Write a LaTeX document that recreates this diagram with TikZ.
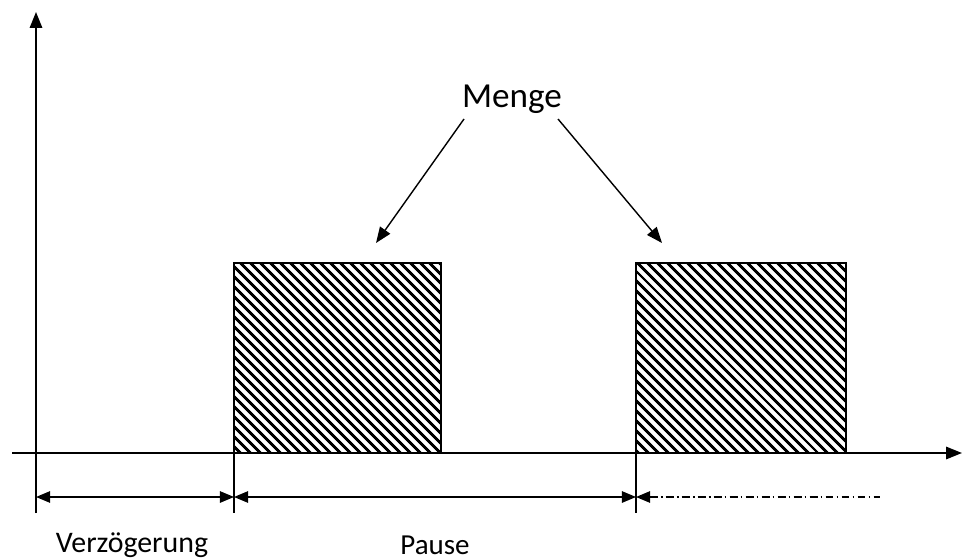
\documentclass[tikz,border=0pt]{standalone}
\usepackage{fontspec}
\setmainfont{Carlito}
\usetikzlibrary{arrows.meta,patterns.meta,positioning}

\begin{document}
\begin{tikzpicture}[x=0.02cm,y=-0.02cm,every node/.style={inner sep=1pt}]
\tikzstyle{axis}=[draw,line width=1pt,-{Triangle[length=9pt,width=7pt]}]
\tikzstyle{tick}=[draw,line width=0.8pt]
\tikzstyle{pulse}=[draw,line width=0.8pt,pattern={Lines[angle=-45,distance=4pt,line width=1.7pt]}]
\tikzstyle{dim}=[draw,line width=0.8pt,{Triangle[length=8pt,width=6.5pt]}-{Triangle[length=8pt,width=6.5pt]}]
\tikzstyle{pointer}=[draw,line width=0.8pt,-{Triangle[length=9pt,width=7pt]}]
\useasboundingbox (0,0) rectangle (966,560);

% Achsen
\coordinate (ytop) at (36,12);
\coordinate (ybot) at (36,513);
\coordinate (xl) at (12,453);
\coordinate (xr) at (962,453);

% Impulse
\path[pulse] (234,263) coordinate (p1a) rectangle (441,453) coordinate (p1b);
\path[pulse] (636,263) coordinate (p2a) rectangle (846,453) coordinate (p2b);

\path[axis](ybot)--(ytop);
\path[axis](xl)--(xr);

% Markierungen
\coordinate (t0) at (36,497);
\coordinate (t1) at (234,497);
\coordinate (t2) at (636,497);
\coordinate (t3) at (880,497);
\path[tick](234,453)--(234,513);
\path[tick](636,453)--(636,513);

\path[dim](t0)--(t1);
\path[dim](t1)--(t2);
\path[draw,line width=0.8pt,dash pattern=on 4.5pt off 1.8pt on 1pt off 1.8pt,
  {Triangle[length=8pt,width=6.5pt]}-](t2)--(t3);

\node[font=\fontsize{17}{20}\selectfont](verz) at (132,545){Verzögerung};
\node[font=\fontsize{16.5}{20}\selectfont](pause) at (435,545){Pause};
\node[font=\fontsize{20}{24}\selectfont](menge) at (512,99){Menge};

\coordinate (m1) at (464,119);
\coordinate (m2) at (558,119);
\coordinate (e1) at (376,243);
\coordinate (e2) at (662,243);
\path[pointer](m1)--(e1);
\path[pointer](m2)--(e2);
\end{tikzpicture}
\end{document}
